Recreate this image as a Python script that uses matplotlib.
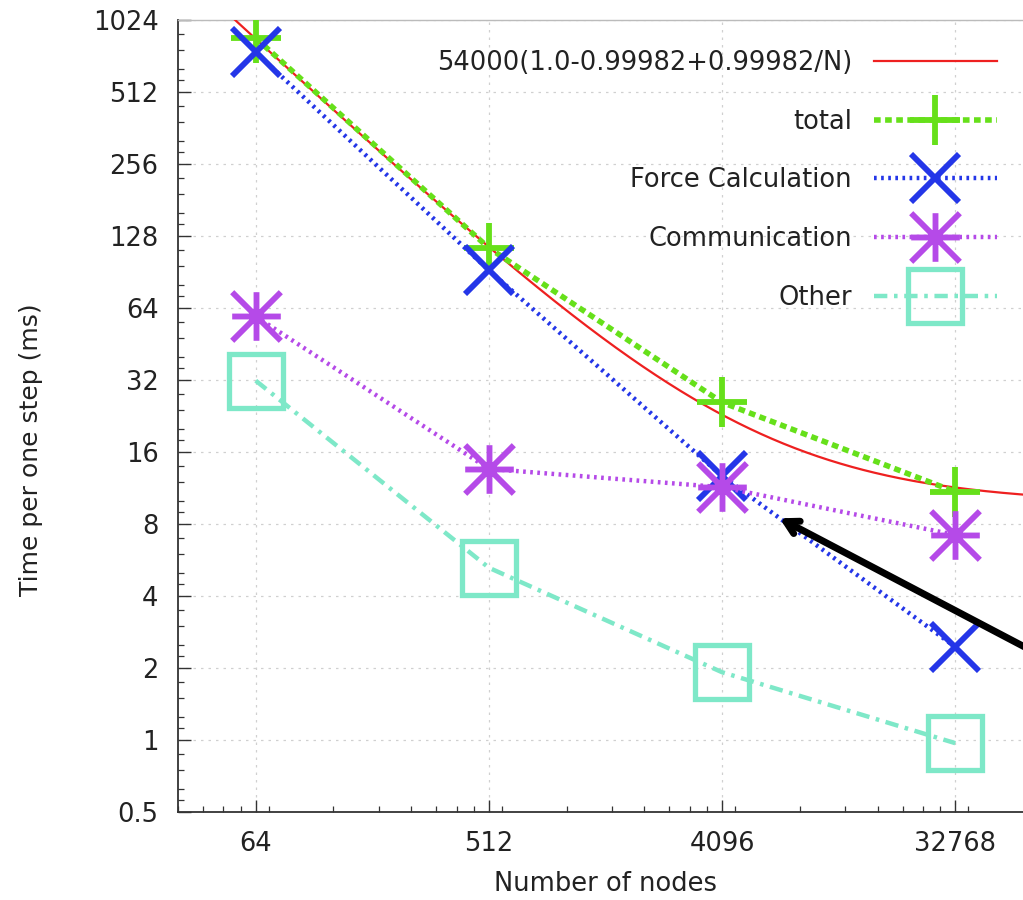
import numpy as np
import matplotlib
matplotlib.use("Agg")
import matplotlib.pyplot as plt
from matplotlib.path import Path
from matplotlib.ticker import FixedLocator, NullFormatter

plt.rcParams['font.family'] = ['DejaVu Sans']

# ---- data ----
nodes = [64, 512, 4096, 32768]
total = [860, 114, 25.8, 10.9]
force = [750, 92, 12.7, 2.45]
comm = [59, 13.6, 11.4, 7.2]
other = [31.8, 5.25, 1.92, 0.97]
fit_label = "54000(1.0-0.99982+0.99982/N)"
fit_a, fit_p = 54000.0, 0.99982
x_ticks = [64, 512, 4096, 32768]
y_ticks = [0.5, 1, 2, 4, 8, 16, 32, 64, 128, 256, 512, 1024]
y_tick_labels = ["0.5", "1", "2", "4", "8", "16", "32", "64", "128", "256", "512", "1024"]

FS = 18.5

fig = plt.figure(figsize=(10.23, 9.0), dpi=100)
ax = fig.add_axes([178/1023, 1-812/900, (1033-178)/1023, (812-20)/900])

ax.set_xscale('log', base=2)
ax.set_yscale('log', base=2)
ax.set_xlim(32, 65536)
ax.set_ylim(0.5, 1024)

# grid
ax.grid(True, which='major', color='#d0d0d0', linestyle=(0, (2, 4)), linewidth=0.9)

# fit curve
N = np.geomspace(40, 80000, 600)
ax.plot(N, fit_a*(1.0-fit_p+fit_p/N), color='#ee2020', lw=1.6, label=fit_label, zorder=3)

ast = Path([(-1, 0), (1, 0), (0, -1), (0, 1), (-1, -1), (1, 1), (-1, 1), (1, -1)],
           [Path.MOVETO, Path.LINETO]*4)

ax.plot(nodes, total, color='#66e01a', lw=4.0, linestyle=(0, (1.2, 0.8)),
        marker='+', markersize=36, mew=4.2, label='total', zorder=4)
ax.plot(nodes, force, color='#2436e8', lw=3.2, linestyle=(0, (0.6, 1.0)),
        marker='x', markersize=35, mew=4.2, label='Force Calculation', zorder=4)
ax.plot(nodes, comm, color='#b54ae8', lw=3.2, linestyle=(0, (0.6, 1.0)),
        marker=ast, markersize=35, mew=4.2, label='Communication', zorder=4)
ax.plot(nodes, other, color='#7ee8c8', lw=3.2, linestyle=(0, (3, 1.5, 0.8, 1.5)),
        marker='s', markersize=39, mew=3.8, markerfacecolor='none', label='Other', zorder=4)

# arrow
ax.annotate('', xy=(6690, 8.56), xytext=(69000, 2.28),
            arrowprops=dict(arrowstyle='->,head_length=0.9,head_width=0.5', color='black', lw=5),
            annotation_clip=False, zorder=6)

# ticks
ax.xaxis.set_major_locator(FixedLocator(x_ticks))
ax.set_xticklabels([str(v) for v in x_ticks])
xmin = []
for b in [8, 64, 512, 4096, 32768]:
    for k in range(2, 10):
        xmin.append(b*k)
ax.xaxis.set_minor_locator(FixedLocator(xmin))
ax.xaxis.set_minor_formatter(NullFormatter())
ax.yaxis.set_major_locator(FixedLocator(y_ticks))
ax.set_yticklabels(y_tick_labels)
ymin = []
for b in y_ticks:
    for k in [1.125, 1.25, 1.5, 1.75]:
        ymin.append(b*k)
ax.yaxis.set_minor_locator(FixedLocator(ymin))
ax.yaxis.set_minor_formatter(NullFormatter())
ax.tick_params(which='both', direction='in', color='#333333')
ax.tick_params(which='major', length=9, width=1.0, labelsize=FS, pad=14, labelcolor='#222222')
ax.tick_params(which='minor', length=4, width=0.9)
for s in ['left', 'bottom']:
    ax.spines[s].set_color('#333333')
    ax.spines[s].set_linewidth(1.3)
for s in ['top', 'right']:
    ax.spines[s].set_color('#bbbbbb')
    ax.spines[s].set_linewidth(1.0)

ax.set_xlabel('Number of nodes', fontsize=FS, color='#222222', labelpad=6)
ax.set_ylabel('Time per one step (ms)', fontsize=18, color='#222222', labelpad=12)
ax.yaxis.set_label_coords(31/1023, 0.5, transform=fig.transFigure)
ax.yaxis.label.set_verticalalignment('center')
ax.xaxis.set_label_coords(605/1023, 1-884/900, transform=fig.transFigure)
ax.xaxis.label.set_verticalalignment('center')

leg = ax.legend(loc='upper right', bbox_to_anchor=(997/1023, 1-50/900),
                bbox_transform=fig.transFigure, frameon=False, markerfirst=False,
                fontsize=FS, handlelength=4.8, labelspacing=1.27, handletextpad=0.85,
                borderaxespad=0, borderpad=0)
for t in leg.get_texts():
    t.set_color('#222222')

fig.savefig('out.png', dpi=100)
